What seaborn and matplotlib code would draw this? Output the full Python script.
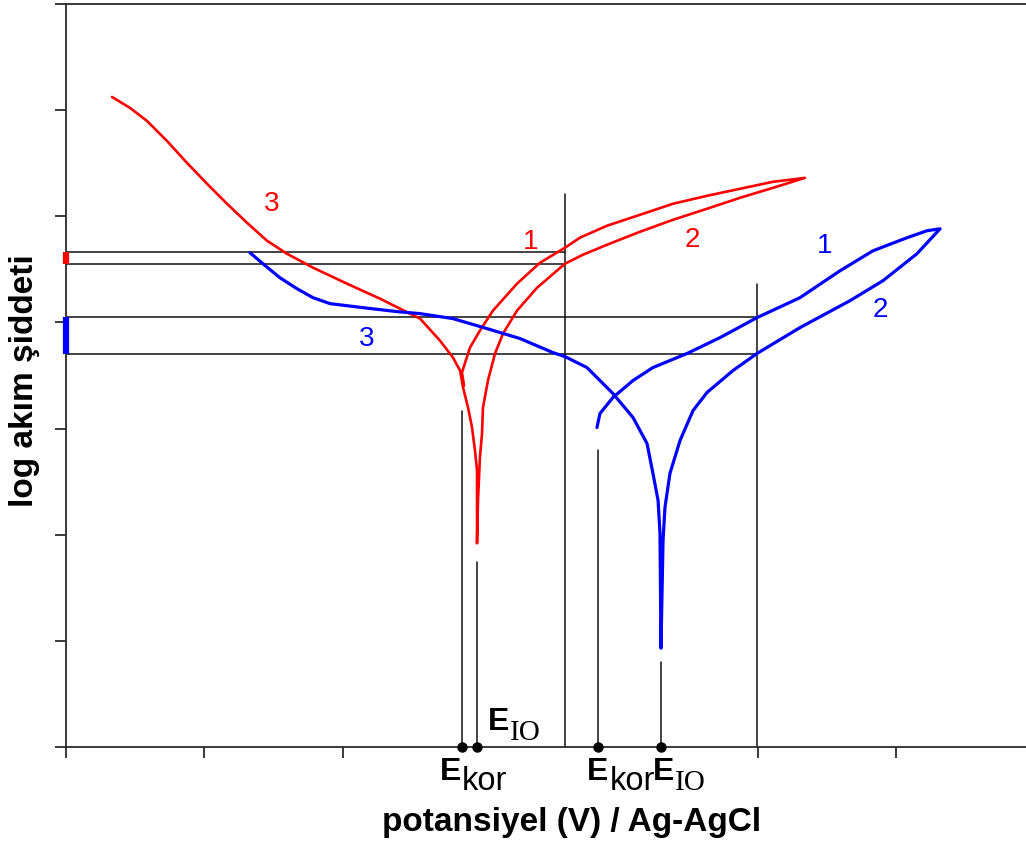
import matplotlib
matplotlib.use("Agg")
import matplotlib.pyplot as plt
import seaborn as sns
import numpy as np

# ---------------- data (x: potential in tick units, y: log current in decades) -------------
red_x = [0.333, 0.463, 0.586, 0.730, 0.875, 1.020, 1.164, 1.309, 1.453, 1.598, 1.786, 2.032,
         2.270, 2.473, 2.560, 2.704, 2.798, 2.849, 2.871, 2.907, 2.936, 2.957, 2.972, 2.972,
         2.979, 2.993, 3.008, 3.015, 3.051, 3.102, 3.160, 3.261, 3.406, 3.608, 3.738, 3.912,
         4.150, 4.389, 4.635, 4.873, 5.112, 5.343,
         5.112, 4.873, 4.635, 4.389, 4.150, 3.912, 3.717, 3.608, 3.427, 3.261, 3.087, 2.993,
         2.921, 2.863, 2.878]
red_y = [6.124, 6.021, 5.898, 5.710, 5.503, 5.306, 5.118, 4.939, 4.770, 4.647, 4.516, 4.365,
         4.224, 4.092, 4.036, 3.829, 3.669, 3.547, 3.387, 3.198, 3.010, 2.794, 2.606, 1.919,
         2.324, 2.728, 2.954, 3.198, 3.453, 3.707, 3.895, 4.111, 4.327, 4.553, 4.638, 4.732,
         4.854, 4.967, 5.071, 5.174, 5.268, 5.362,
         5.325, 5.259, 5.193, 5.118, 5.014, 4.911, 4.799, 4.704, 4.562, 4.365, 4.111, 3.923,
         3.763, 3.528, 3.405]

blue_x = [1.330, 1.424, 1.547, 1.670, 1.786, 1.909, 2.148, 2.393, 2.560, 2.798, 3.044, 3.283,
          3.521, 3.608, 3.767, 3.955, 4.100, 4.201, 4.244, 4.281, 4.295, 4.302,
          4.317, 4.331, 4.367, 4.440, 4.534, 4.635, 4.823, 4.996, 5.307, 5.669, 5.907, 6.153,
          6.320,
          6.226, 6.081, 5.835, 5.597, 5.307, 4.996, 4.823, 4.729, 4.490, 4.244, 4.100, 3.955,
          3.861, 3.839]
blue_y = [4.657, 4.553, 4.421, 4.318, 4.233, 4.177, 4.139, 4.102, 4.083, 4.036, 3.942, 3.848,
          3.716, 3.678, 3.575, 3.330, 3.104, 2.860, 2.578, 2.324, 2.013, 0.931,
          1.947, 2.258, 2.578, 2.888, 3.170, 3.340, 3.547, 3.707, 3.951, 4.205, 4.393, 4.647,
          4.882,
          4.864, 4.798, 4.675, 4.487, 4.233, 4.045, 3.923, 3.857, 3.707, 3.575, 3.453, 3.293,
          3.142, 3.010]

# guide lines
h_levels_red = [4.666, 4.553]      # end at vertical line x_red_guide
h_levels_blue = [4.055, 3.707]     # end at vertical line x_blue_guide
x_red_guide, top_red_guide = 3.608, 5.212
x_blue_guide, top_blue_guide = 4.996, 4.365
marker_x = [2.863, 2.972, 3.847, 4.302]   # Ekor(red), EIO(red), Ekor(blue), EIO(blue)
marker_top = [3.170, 1.740, 2.794, 0.800]

x_ticks = [0, 1, 2, 5, 6]
y_ticks = [0, 1, 2, 3, 4, 5, 6, 7]

# ---------------- figure -------------
sns.set_theme(style="ticks")
plt.rcParams['font.family'] = ['Liberation Sans', 'DejaVu Sans']
plt.rcParams['text.color'] = 'black'

W, H = 1026, 848
fig = plt.figure(figsize=(W / 100, H / 100), dpi=100)
ax = fig.add_axes([66 / W, 1 - 747 / H, 1 - 66 / W, (747 - 4) / H])
ax.set_xlim(0, 960 / 138.3)
ax.set_ylim(0, 7)

RED = "#ff0000"
BLUE = "#0000ff"
sns.lineplot(x=red_x, y=red_y, sort=False, estimator=None, color=RED, lw=1.9, ax=ax, zorder=3)
sns.lineplot(x=blue_x, y=blue_y, sort=False, estimator=None, color=BLUE, lw=2.3, ax=ax, zorder=3)

gc = "#111111"
for yv in h_levels_red:
    ax.plot([0, x_red_guide], [yv, yv], color=gc, lw=1.1, zorder=2)
for yv in h_levels_blue:
    ax.plot([0, x_blue_guide], [yv, yv], color=gc, lw=1.1, zorder=2)
ax.plot([x_red_guide, x_red_guide], [0, top_red_guide], color=gc, lw=1.1, zorder=2)
ax.plot([x_blue_guide, x_blue_guide], [0, top_blue_guide], color=gc, lw=1.1, zorder=2)
for xm, tm in zip(marker_x, marker_top):
    ax.plot([xm, xm], [0, tm], color=gc, lw=1.1, zorder=2)
ax.plot(marker_x, [0] * len(marker_x), 'o', color='black', ms=6.5, clip_on=False, zorder=5)

# colored bars on the y axis
ax.plot([0, 0], [h_levels_red[1], h_levels_red[0]], color=RED, lw=4.5,
        solid_capstyle='butt', clip_on=False, zorder=6)
ax.plot([0, 0], [h_levels_blue[1], h_levels_blue[0]], color=BLUE, lw=4.5,
        solid_capstyle='butt', clip_on=False, zorder=6)

# spines / ticks
for s in ['top', 'left', 'bottom']:
    ax.spines[s].set_color('#2a2a2a')
    ax.spines[s].set_linewidth(1.3)
ax.spines['right'].set_visible(False)
ax.set_xticks(x_ticks)
ax.set_yticks(y_ticks)
ax.tick_params(axis='both', direction='out', length=8, width=1.3, color='#2a2a2a',
               labelbottom=False, labelleft=False)
ax.grid(False)

# curve numbers
fs_num = 20
ax.text(1.490, 5.118, "3", color=RED, fontsize=fs_num, ha='center', va='center')
ax.text(3.362, 4.760, "1", color=RED, fontsize=fs_num, ha='center', va='center')
ax.text(4.526, 4.779, "2", color=RED, fontsize=fs_num, ha='center', va='center')
ax.text(2.176, 3.848, "3", color=BLUE, fontsize=fs_num, ha='center', va='center')
ax.text(5.488, 4.722, "1", color=BLUE, fontsize=fs_num, ha='center', va='center')
ax.text(5.886, 4.120, "2", color=BLUE, fontsize=fs_num, ha='center', va='center')

# E labels
def elabel(xE, yE, xs, ys, sub, serif):
    ax.text(xE, yE, "E", fontsize=23, fontweight='bold', ha='left', va='baseline',
            clip_on=False)
    if serif:
        ax.text(xs, ys, sub, fontsize=21, family=['Liberation Serif', 'DejaVu Serif'],
                ha='left', va='baseline', clip_on=False)
    else:
        ax.text(xs, ys, sub, fontsize=23.5, ha='left', va='baseline', clip_on=False)

elabel(3.051, 0.160, 3.210, 0.066, "IO", True)
elabel(2.704, -0.310, 2.863, -0.405, "kor", False)
elabel(3.767, -0.310, 3.935, -0.405, "kor", False)
elabel(4.244, -0.310, 4.405, -0.405, "IO", True)

fig.text(572 / W, 1 - 822 / H, "potansiyel (V) / Ag-AgCl", fontsize=24, fontweight='bold',
         ha='center', va='center')
fig.text(25 / W, 1 - 381 / H, "log akım şiddeti", fontsize=24, fontweight='bold',
         ha='center', va='center', rotation=90)

fig.savefig("out.png", dpi=100, facecolor='white')
